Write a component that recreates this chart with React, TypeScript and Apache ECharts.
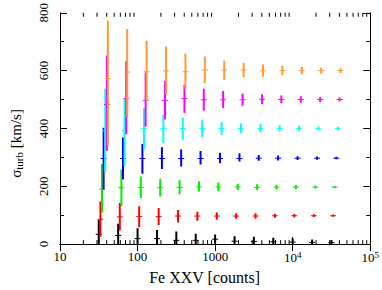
import React, { useEffect, useRef } from "react";
import * as echarts from "echarts";

// counts (x) per series
const xBlack = [31.6, 56.2, 100, 178, 316, 562, 1000, 1780, 3160, 5620, 10000, 17800, 31600];
const xRed = [33.2, 59, 105, 187, 332, 590, 1050, 1870, 3320, 5900, 10500, 18700, 33200];
const xGreen = [34.8, 61.9, 110, 196, 348, 619, 1100, 1960, 3480, 6190, 11000, 19600, 34800];
const xBlue = [36.5, 64.9, 115.5, 206, 365, 649, 1155, 2060, 3650, 6490, 11550, 20600, 36500];
const xCyan = [38.3, 68, 121, 215, 383, 680, 1210, 2150, 3830, 6800, 12100, 21500, 38300];
const xMagenta = [40.2, 71.4, 127, 226, 402, 714, 1270, 2260, 4020, 7140, 12700, 22600, 40200];
const xOrange = [41.4, 73.6, 131, 233, 414, 736, 1310, 2330, 4140, 7360, 13100, 23300, 41400];

// sigma_turb centre, lower and upper values
const cBlack = [34, 30, 19, 19, 13, 13, 17, 10, 9, 8, 7, 6, 5];
const loBlack = [0, 0, 0, 0, 0, 0, 0, 0, 0, 0, 0, 0, 0];
const hiBlack = [83, 70, 55, 49, 44, 36, 33, 27, 25, 22, 19, 16, 14];

const cRed = [86, 94, 95, 95, 97, 97, 97, 97, 97, 98, 98, 98, 98];
const loRed = [25, 47, 58, 66, 75, 81, 84, 88, 88, 91, 93, 94, 95];
const hiRed = [147, 142, 131, 125, 118, 112, 109, 107, 107, 105, 104, 103, 102];

const cGreen = [190, 195, 196, 195, 196, 198, 198, 198, 196, 197, 197, 197, 197];
const loGreen = [109, 131, 159, 165, 172, 182, 184, 187, 187, 189, 190, 192, 193];
const hiGreen = [277, 258, 234, 226, 221, 217, 213, 209, 207, 205, 204, 203, 201];

const cBlue = [296, 296, 296, 296, 296, 296, 296, 296, 297, 297, 297, 297, 297];
const loBlue = [189, 223, 243, 260, 268, 275, 280, 286, 288, 289, 291, 292, 293];
const hiBlue = [402, 369, 346, 335, 327, 322, 316, 314, 308, 306, 304, 303, 302];

const cCyan = [392, 392, 400, 400, 400, 400, 400, 400, 400, 400, 400, 400, 400];
const loCyan = [250, 270, 327, 350, 361, 370, 378, 383, 387, 389, 391, 393, 394];
const hiCyan = [537, 501, 470, 448, 437, 428, 422, 417, 415, 411, 409, 407, 406];

const cMagenta = [483, 503, 497, 497, 503, 499, 499, 499, 501, 500, 500, 500, 500];
const loMagenta = [323, 380, 406, 431, 453, 461, 471, 478, 484, 487, 489, 491, 493];
const hiMagenta = [652, 632, 593, 565, 551, 537, 529, 521, 518, 514, 511, 509, 507];

const cOrange = [572, 595, 596, 599, 596, 602, 602, 602, 599, 600, 600, 600, 600];
const loOrange = [340, 439, 495, 518, 537, 557, 568, 577, 579, 584, 587, 590, 592];
const hiOrange = [773, 744, 703, 683, 658, 649, 635, 626, 621, 617, 613, 610, 608];

const xMinorTicks = [20, 30, 40, 50, 60, 70, 80, 90, 200, 300, 400, 500, 600, 700, 800, 900,
  2000, 3000, 4000, 5000, 6000, 7000, 8000, 9000, 20000, 30000, 40000, 50000, 60000, 70000, 80000, 90000];

const FONT = "'Liberation Serif', 'Times New Roman', 'DejaVu Serif', serif";

const seriesDefs = [
  { name: "0", color: "#000000", x: xBlack, c: cBlack, lo: loBlack, hi: hiBlack },
  { name: "100", color: "#ff0000", x: xRed, c: cRed, lo: loRed, hi: hiRed },
  { name: "200", color: "#00ee00", x: xGreen, c: cGreen, lo: loGreen, hi: hiGreen },
  { name: "300", color: "#0000ff", x: xBlue, c: cBlue, lo: loBlue, hi: hiBlue },
  { name: "400", color: "#00ffff", x: xCyan, c: cCyan, lo: loCyan, hi: hiCyan },
  { name: "500", color: "#ff00ff", x: xMagenta, c: cMagenta, lo: loMagenta, hi: hiMagenta },
  { name: "600", color: "#ff9a33", x: xOrange, c: cOrange, lo: loOrange, hi: hiOrange },
];

export default function App() {
  const ref = useRef<HTMLDivElement>(null);
  useEffect(() => {
    if (!ref.current) return;
    const chart = echarts.init(ref.current, null, { renderer: "svg" });

    const errSeries = seriesDefs.map((s) => ({
      type: "custom",
      name: s.name,
      coordinateSystem: "cartesian2d",
      clip: true,
      itemStyle: { color: s.color },
      encode: { x: 0, y: [1, 2, 3] },
      data: s.x.map((xv, i) => [xv, s.c[i], s.lo[i], s.hi[i]]),
      renderItem: (params: any, api: any) => {
        const x = api.value(0);
        const pc = api.coord([x, api.value(1)]);
        const pl = api.coord([x, api.value(2)]);
        const ph = api.coord([x, api.value(3)]);
        const color = s.color;
        return {
          type: "group",
          children: [
            { type: "line", shape: { x1: pc[0], y1: pl[1], x2: pc[0], y2: ph[1] }, style: { stroke: color, lineWidth: 2 } },
            { type: "line", shape: { x1: pc[0] - 3, y1: pc[1], x2: pc[0] + 3, y2: pc[1] }, style: { stroke: color, lineWidth: 1 } },
          ],
        };
      },
    }));

    const minorSeries = {
      type: "custom",
      coordinateSystem: "cartesian2d",
      clip: false,
      silent: true,
      encode: { x: 0, y: 1 },
      data: xMinorTicks.map((v) => [v, 0]),
      renderItem: (params: any, api: any) => {
        const b = api.coord([api.value(0), 0]);
        const t = api.coord([api.value(0), 800]);
        return {
          type: "group",
          children: [
            { type: "line", shape: { x1: b[0], y1: b[1], x2: b[0], y2: b[1] - 4 }, style: { stroke: "#000", lineWidth: 1 } },
            { type: "line", shape: { x1: t[0], y1: t[1], x2: t[0], y2: t[1] + 4 }, style: { stroke: "#000", lineWidth: 1 } },
          ],
        };
      },
    };

    const xLabelFmt = (v: number) => {
      const e = Math.round(Math.log10(v));
      if (e >= 4) return `{b|10}{s|${e}}`;
      return `{b|${Math.round(v)}}`;
    };

    const option: any = {
      animation: false,
      textStyle: { fontFamily: FONT },
      grid: { left: 51, right: 9, top: 11, bottom: 41, containLabel: false },
      xAxis: [
        {
          type: "log",
          logBase: 10,
          min: 10,
          max: 100000,
          position: "bottom",
          axisLine: { lineStyle: { color: "#000", width: 1 } },
          axisTick: { inside: true, length: 7, lineStyle: { color: "#000" } },
          splitLine: { show: false },
          axisLabel: {
            formatter: xLabelFmt,
            margin: 6,
            color: "#000",
            fontFamily: FONT,
            rich: {
              b: { fontFamily: FONT, fontSize: 13, color: "#000" },
              s: { fontFamily: FONT, fontSize: 9, color: "#000", verticalAlign: "top", padding: [0, 0, 6, 0] },
            },
          },
          name: "Fe XXV [counts]",
          nameLocation: "middle",
          nameGap: 21,
          nameTextStyle: { fontFamily: FONT, fontSize: 16, color: "#000", padding: [0, 21, 0, 0] },
        },
        {
          type: "log",
          logBase: 10,
          min: 10,
          max: 100000,
          position: "top",
          axisLine: { lineStyle: { color: "#000", width: 1 } },
          axisTick: { inside: true, length: 7, lineStyle: { color: "#000" } },
          axisLabel: { show: false },
          splitLine: { show: false },
        },
      ],
      yAxis: [
        {
          type: "value",
          min: 0,
          max: 800,
          interval: 200,
          position: "left",
          axisLine: { show: true, lineStyle: { color: "#000", width: 1 } },
          axisTick: { show: true, inside: true, length: 7, lineStyle: { color: "#000" } },
          minorTick: { show: true, splitNumber: 2, length: 4, lineStyle: { color: "#000" } },
          splitLine: { show: false },
          axisLabel: { rotate: 90, margin: 10, fontFamily: FONT, fontSize: 13, color: "#000" },
          name: "{g|σ}{sub|turb}{n| [km/s]}",
          nameLocation: "middle",
          nameRotate: 90,
          nameGap: 36,
          nameTextStyle: {
            fontFamily: FONT,
            padding: [0, 30, 0, 0],
            rich: {
              g: { fontFamily: FONT, fontSize: 15, color: "#000" },
              sub: { fontFamily: FONT, fontSize: 11, color: "#000", verticalAlign: "bottom", padding: [6, 0, 0, 0] },
              n: { fontFamily: FONT, fontSize: 15, color: "#000" },
            },
          },
        },
        {
          type: "value",
          min: 0,
          max: 800,
          interval: 200,
          position: "right",
          axisLine: { show: true, lineStyle: { color: "#000", width: 1 } },
          axisTick: { show: true, inside: true, length: 7, lineStyle: { color: "#000" } },
          minorTick: { show: true, splitNumber: 2, length: 4, lineStyle: { color: "#000" } },
          splitLine: { show: false },
          axisLabel: { show: false },
        },
      ],
      series: [minorSeries, ...errSeries],
    };
    chart.setOption(option);
    return () => chart.dispose();
  }, []);
  return <div ref={ref} style={{ position: "absolute", left: 0, top: 0, width: 382, height: 290 }} />;
}
